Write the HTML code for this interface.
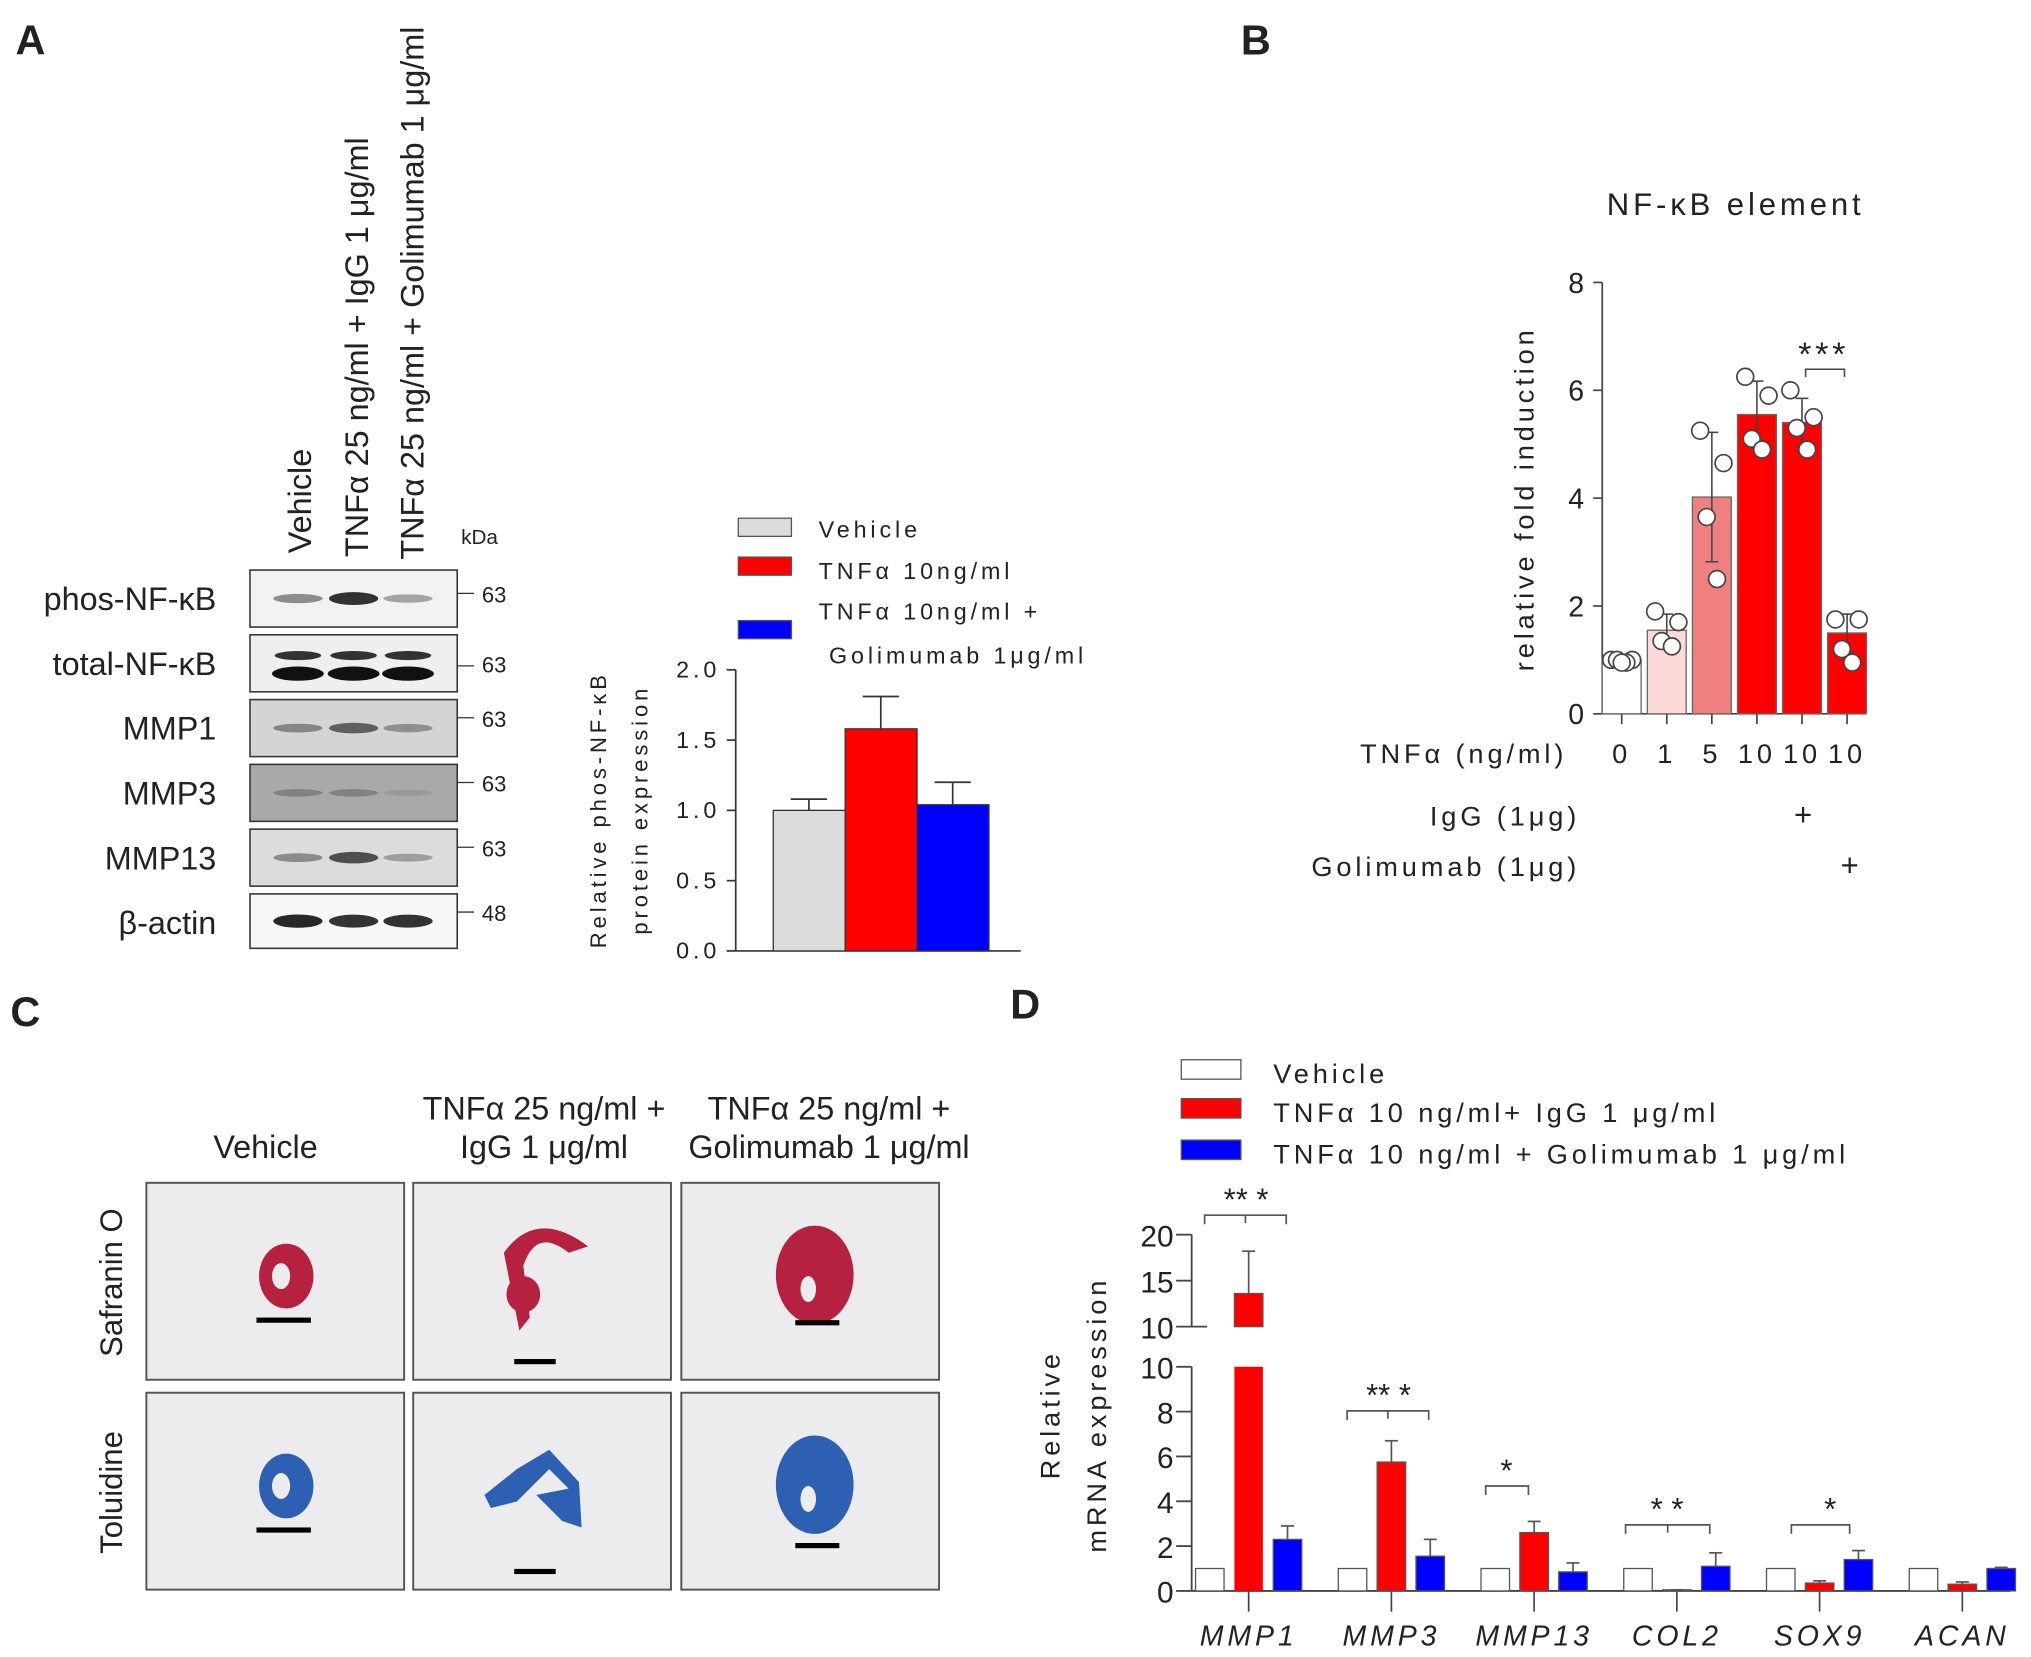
<!DOCTYPE html>
<html><head><meta charset="utf-8">
<style>
html,body{margin:0;padding:0;background:#fff;}
svg{display:block;}
text{font-family:"Liberation Sans",Arial,sans-serif;fill:#222;}
.ls{letter-spacing:3px;}
</style></head>
<body>
<svg id="fig" width="2031" height="1657" viewBox="0 0 1568 1279" preserveAspectRatio="none" xmlns="http://www.w3.org/2000/svg">
<g>
<text x="12" y="42" font-size="32" font-weight="bold">A</text>
<text x="958" y="42" font-size="32" font-weight="bold">B</text>
<text x="8" y="792" font-size="32" font-weight="bold">C</text>
<text x="780" y="786" font-size="32" font-weight="bold">D</text>
</g>

<g id="blot">
<text transform="translate(240,427) rotate(-90)" font-size="25">Vehicle</text>
<text transform="translate(284,430) rotate(-90)" font-size="25">TNFα 25 ng/ml + IgG 1 μg/ml</text>
<text transform="translate(327,432) rotate(-90)" font-size="25">TNFα 25 ng/ml + Golimumab 1 μg/ml</text>
<text x="356" y="420" font-size="16">kDa</text>
</g>

<g id="chartA"></g>
<g id="chartB"></g>
<g id="histo">
<text x="205" y="894" font-size="25" text-anchor="middle">Vehicle</text>
<text x="420" y="864" font-size="25" text-anchor="middle">TNFα 25 ng/ml +</text>
<text x="420" y="894" font-size="25" text-anchor="middle">IgG 1 μg/ml</text>
<text x="640" y="864" font-size="25" text-anchor="middle">TNFα 25 ng/ml +</text>
<text x="640" y="894" font-size="25" text-anchor="middle">Golimumab 1 μg/ml</text>
<text transform="translate(94,990) rotate(-90)" font-size="24" text-anchor="middle">Safranin O</text>
<text transform="translate(94,1152) rotate(-90)" font-size="24" text-anchor="middle">Toluidine</text>
</g>
<g id="chartD"></g>
</svg>

<script>
// ---------- data ----------
const blotRows = ["phos-NF-κB","total-NF-κB","MMP1","MMP3","MMP13","β-actin"];
const blotKda = ["63","63","63","63","63","48"];
const blotIntensity = [[0.45,0.85,0.35],[0.9,0.9,0.9],[0.4,0.6,0.35],[0.25,0.25,0.1],[0.4,0.7,0.3],[0.9,0.85,0.85]];
const blotBg = ["#f2f2f2","#efefef","#d4d4d4","#a9a9a9","#dcdcdc","#f7f7f7"];

const aGroups = ["Vehicle","TNFα 10ng/ml","TNFα 10ng/ml + Golimumab 1μg/ml"];
const aValues = [1.0, 1.58, 1.04];
const aErrors = [1.08, 1.81, 1.20];
const aTicks = ["0.0","0.5","1.0","1.5","2.0"];

const bCats = ["0","1","5","10","10","10"];
const bMeans = [1.0, 1.55, 4.02, 5.55, 5.4, 1.5];
const bSd = [0.05, 0.3, 1.2, 0.62, 0.45, 0.35];
const bPoints = [[1.0,1.0,1.0,0.95,0.95],[1.9,1.7,1.35,1.25],[5.25,4.65,3.65,2.5],[6.25,5.9,5.1,4.9],[6.0,5.5,5.3,4.9],[1.75,1.75,1.2,0.95]];
const bTicks = ["0","2","4","6","8"];

const dGenes = ["MMP1","MMP3","MMP13","COL2","SOX9","ACAN"];
const dVehicle = [1,1,1,1,1,1];
const dIgG = [13.6,5.75,2.6,0.05,0.35,0.3];
const dIgGErr = [18.2,6.7,3.1,0.05,0.45,0.4];
const dGol = [2.3,1.55,0.85,1.1,1.4,1.0];
const dGolErr = [2.9,2.3,1.25,1.7,1.8,1.05];
const dLowTicks = ["0","2","4","6","8","10"];
const dHighTicks = ["10","15","20"];

const NS="http://www.w3.org/2000/svg";
function el(tag, attrs, parent, txt){
  const e=document.createElementNS(NS,tag);
  for(const k in attrs) e.setAttribute(k,attrs[k]);
  if(txt!==undefined) e.textContent=txt;
  parent.appendChild(e); return e;
}

// ---------- blot ----------
const blot=document.getElementById('blot');
blotRows.forEach((r,i)=>{
  const y=440+i*50, h=(i==5?42:44);
  const g=el('g',{},blot);
  
  
  const rc=el('rect',{x:193,y:y,width:160,height:h,fill:blotBg[i],stroke:'#333','stroke-width':1.2},g);
  
  
  const t=el('text',{x:167,y:y+31,'font-size':25,'text-anchor':'end'},g,r);
  
  
  const k=el('text',{x:372,y:y+(i==0||i==1?25:21)+(i==1?4:0),'font-size':17},g,blotKda[i]);
  
  
  el('line',{x1:353,x2:366,y1:y+(i==0?18:i==1?24:14),y2:y+(i==0?18:i==1?24:14),stroke:'#333'},g);
  [230,273,315].forEach((cx,j)=>{
    const v=blotIntensity[i][j];
    if(i==1){
      el('ellipse',{cx:cx,cy:y+30,rx:20,ry:5.5,fill:'#111'},g);
      el('ellipse',{cx:cx,cy:y+16,rx:18,ry:3.5,fill:'#333'},g);
    } else {
      const b=el('ellipse',{cx:cx,cy:y+h/2,rx:19,ry:2+v*3.5,fill:'#111','fill-opacity':v},g);
      
      
    }
  });
});

// ---------- chart A ----------
(function(){
  const g=document.getElementById('chartA');
  const x0=568, y0=734, yTop=517, max=2.0;
  const ys=v=>y0-(v/max)*(y0-yTop);
  el('line',{x1:x0,x2:x0,y1:yTop,y2:y0,stroke:'#333','stroke-width':1.3},g);
  el('line',{x1:x0,x2:788,y1:y0,y2:y0,stroke:'#333','stroke-width':1.3},g);
  aTicks.forEach((t,i)=>{
    const y=ys(parseFloat(t));
    el('line',{x1:x0-7,x2:x0,y1:y,y2:y,stroke:'#333','stroke-width':1.3},g);
    const tx=el('text',{x:x0-12,y:y+6,'font-size':18,'text-anchor':'end',class:'ls'},g,t);
    
    
  });
  const cols=['#dcdcdc','#ff0000','#0000ff'];
  aValues.forEach((v,i)=>{
    const x=597+i*55.5;
    const c=(x+27.5);
    el('line',{x1:c,x2:c,y1:ys(v),y2:ys(aErrors[i]),stroke:'#333','stroke-width':1.3},g);
    el('line',{x1:c-14,x2:c+14,y1:ys(aErrors[i]),y2:ys(aErrors[i]),stroke:'#333','stroke-width':1.3},g);
    const b=el('rect',{x:x,y:ys(v),width:55.5,height:y0-ys(v),fill:cols[i],stroke:'#333','stroke-width':1},g);
    
    
  });
  const yl1=el('text',{transform:'translate(468,625) rotate(-90)','font-size':17,'text-anchor':'middle',class:'ls'},g,'Relative phos-NF-κB');
  
  
  const yl2=el('text',{transform:'translate(500,625) rotate(-90)','font-size':17,'text-anchor':'middle',class:'ls'},g,'protein expression');
  
  
  const ly=[400,430,479];
  ly.forEach((y,i)=>{
    const s=el('rect',{x:570,y:y,width:41,height:14,fill:cols[i],stroke:'#555'},g);
    
    
  });
  [[632,415,'Vehicle'],[632,447,'TNFα 10ng/ml'],[632,478,'TNFα 10ng/ml +'],[640,512,'Golimumab 1μg/ml']].forEach(a=>{
    const t=el('text',{x:a[0],y:a[1],'font-size':18,class:'ls'},g,a[2]);
    
    
  });
})();

// ---------- chart B ----------
(function(){
  const g=document.getElementById('chartB');
  const x0=1237, y0=551, yTop=218, max=8;
  const ys=v=>y0-(v/max)*(y0-yTop);
  const t=el('text',{x:1340,y:166,'font-size':24,'text-anchor':'middle',class:'ls'},g,'NF-κB element');
  
  
  el('line',{x1:x0,x2:x0,y1:yTop,y2:y0,stroke:'#444','stroke-width':1.3},g);
  el('line',{x1:x0,x2:1440,y1:y0,y2:y0,stroke:'#444','stroke-width':1.3},g);
  bTicks.forEach(tk=>{
    const y=ys(parseFloat(tk));
    el('line',{x1:x0-7,x2:x0,y1:y,y2:y,stroke:'#444','stroke-width':1.3},g);
    const tx=el('text',{x:x0-14,y:y+8,'font-size':22,'text-anchor':'end'},g,tk);
    
    
  });
  const yl=el('text',{transform:'translate(1184,385) rotate(-90)','font-size':21,'text-anchor':'middle',class:'ls'},g,'relative fold induction');
  
  
  const cols=['#ffffff','#fbd9d9','#f07f7f','#ff0000','#ff0000','#ff0000'];
  bMeans.forEach((v,i)=>{
    const cx=1252+i*34.8;
    const b=el('rect',{x:cx-15,y:ys(v),width:30,height:y0-ys(v),fill:cols[i],stroke:'#666','stroke-width':1},g);
    
    
    el('line',{x1:cx,x2:cx,y1:y0,y2:y0+8,stroke:'#444','stroke-width':1.3},g);
    el('line',{x1:cx,x2:cx,y1:ys(v-bSd[i]),y2:ys(v+bSd[i]),stroke:'#444','stroke-width':1.2},g);
    el('line',{x1:cx-5,x2:cx+5,y1:ys(v+bSd[i]),y2:ys(v+bSd[i]),stroke:'#444','stroke-width':1.2},g);
    el('line',{x1:cx-5,x2:cx+5,y1:ys(v-bSd[i]),y2:ys(v-bSd[i]),stroke:'#444','stroke-width':1.2},g);
    const offs=[-9,9,-4,4,0];
    bPoints[i].forEach((p,j)=>{
      const c=el('circle',{cx:cx+offs[j%5]*(i==0?0.9:1),cy:ys(p),r:6.5,fill:'#fff',stroke:'#444','stroke-width':1.3},g);
      
      
    });
    const xl=el('text',{x:cx,y:589,'font-size':21,'text-anchor':'middle',class:'ls'},g,bCats[i]);
    
    
  });
  [[1210,589,'TNFα (ng/ml)'],[1220,637,'IgG (1μg)'],[1220,676,'Golimumab (1μg)']].forEach(a=>{
    const tx=el('text',{x:a[0],y:a[1],'font-size':21,'text-anchor':'end',class:'ls'},g,a[2]);
    
    
  });
  [[1392,637],[1428,676]].forEach(a=>{
    const tx=el('text',{x:a[0],y:a[1],'font-size':24,'text-anchor':'middle'},g,'+');
    
    
  });
  const s=el('text',{x:1408,y:282,'font-size':26,'text-anchor':'middle',class:'ls'},g,'***');
  
  
  el('path',{d:'M1394,291 V285 H1424 V291',fill:'none',stroke:'#444','stroke-width':1.2},g);
})();

// ---------- histology ----------
(function(){
  const g=document.getElementById('histo');
  const xs=[113,319,526], rys=[913,1075];
  const stain=['#b5213f','#2d5fb3'];
  rys.forEach((y,r)=>{
    xs.forEach((x,c)=>{
      const p=el('rect',{x:x,y:y,width:199,height:152,fill:'#ececee',stroke:'#555','stroke-width':1.5},g);
      
      
      const cx=x+100, cy=y+74;
      if(c==0){
        el('ellipse',{cx:cx+8,cy:cy-2,rx:21,ry:25,fill:stain[r]},g);
        el('ellipse',{cx:cx+4,cy:cy-2,rx:7,ry:10,fill:'#ececee'},g);
        el('rect',{x:cx-15,y:cy+30,width:42,height:4,fill:'#000'},g);
      } else if(c==1){
        if(r==0){
          el('path',{d:`M${cx-30},${cy-20} Q${cx-5},${cy-55} ${cx+35},${cy-25} L${cx+20},${cy-20} Q${cx-5},${cy-40} ${cx-15},${cy-10} L${cx-10},${cy+30} L${cx-18},${cy+40} Z`,fill:stain[r]},g);
          el('ellipse',{cx:cx-15,cy:cy+12,rx:13,ry:14,fill:stain[r]},g);
        } else {
          el('path',{d:`M${cx-45},${cy+5} L${cx-20},${cy-15} L${cx+5},${cy-30} L${cx+28},${cy-5} L${cx+30},${cy+30} L${cx+15},${cy+25} L${cx-5},${cy+5} L${cx+20},${cy} L${cx+5},${cy-15} L${cx-20},${cy+10} L${cx-40},${cy+15} Z`,fill:stain[r]},g);
        }
        el('rect',{x:cx-22,y:cy+62,width:32,height:4,fill:'#000'},g);
      } else {
        el('ellipse',{cx:cx+3,cy:cy-3,rx:30,ry:38,fill:stain[r]},g);
        el('ellipse',{cx:cx-2,cy:cy+8,rx:6,ry:10,fill:'#ececee'},g);
        el('rect',{x:cx-12,y:cy+(r==0?32:42),width:34,height:4,fill:'#000'},g);
      }
    });
  });
})();

// ---------- chart D ----------
(function(){
  const g=document.getElementById('chartD');
  const x0=920, y0=1228, yLowTop=1055, yHiBot=1024, yHiTop=953;
  const ysL=v=>y0-(v/10)*(y0-yLowTop);
  const ysH=v=>yHiBot-((v-10)/10)*(yHiBot-yHiTop);
  const ax='#444';
  el('line',{x1:x0,x2:x0,y1:yLowTop,y2:y0,stroke:ax,'stroke-width':1.4},g);
  el('line',{x1:x0,x2:x0,y1:yHiTop,y2:yHiBot,stroke:ax,'stroke-width':1.4},g);
  el('line',{x1:x0,x2:1552,y1:y0,y2:y0,stroke:ax,'stroke-width':1.4},g);
  dLowTicks.forEach(t=>{
    const y=ysL(+t);
    el('line',{x1:x0-12,x2:x0,y1:y,y2:y,stroke:ax,'stroke-width':1.4},g);
    const tx=el('text',{x:x0-14,y:y+9,'font-size':23,'text-anchor':'end'},g,t);
    
    
  });
  dHighTicks.forEach(t=>{
    const y=ysH(+t);
    el('line',{x1:x0-12,x2:x0+(t=='10'?12:0),y1:y,y2:y,stroke:ax,'stroke-width':1.4},g);
    const tx=el('text',{x:x0-14,y:y+9,'font-size':23,'text-anchor':'end'},g,t);
    
    
  });
  const yl1=el('text',{transform:'translate(818,1092) rotate(-90)','font-size':21,'text-anchor':'middle',class:'ls'},g,'Relative');
  
  
  const yl2=el('text',{transform:'translate(854,1092) rotate(-90)','font-size':21,'text-anchor':'middle',class:'ls'},g,'mRNA expression');
  
  

  function bar(cx,v,fill,name){
    if(v<=10){
      const b=el('rect',{x:cx-11,y:ysL(v),width:22,height:y0-ysL(v),fill:fill,stroke:'#555','stroke-width':1},g);
      
      
    } else {
      const b=el('rect',{x:cx-11,y:yLowTop,width:22,height:y0-yLowTop,fill:fill},g);
      
      
      const b2=el('rect',{x:cx-11,y:ysH(v),width:22,height:yHiBot-ysH(v),fill:fill,stroke:'#555','stroke-width':1},g);
      
      
    }
  }
  function err(cx,v,e){
    const yv=v>10?ysH(v):ysL(v), ye=e>10?ysH(e):ysL(e);
    el('line',{x1:cx,x2:cx,y1:yv,y2:ye,stroke:'#555','stroke-width':1.3},g);
    el('line',{x1:cx-5,x2:cx+5,y1:ye,y2:ye,stroke:'#555','stroke-width':1.3},g);
  }
  dGenes.forEach((gn,i)=>{
    const c=964+i*110.2;
    el('line',{x1:c,x2:c,y1:y0,y2:y0+16,stroke:ax,'stroke-width':1.3},g);
    err(c,dIgG[i],dIgGErr[i]); err(c+30,dGol[i],dGolErr[i]);
    bar(c-30,dVehicle[i],'#fff','d-bar-vehicle-'+gn);
    bar(c,dIgG[i],'#ff0000','d-bar-igg-'+gn);
    bar(c+30,dGol[i],'#0000ff','d-bar-golimumab-'+gn);
    const t=el('text',{x:c,y:1270,'font-size':22,'font-style':'italic','text-anchor':'middle',class:'ls'},g,gn);
    
    
  });
  const sig=[[930,993,938,'**  *',962,1],[1040,1103,1089,'**  *',1072,1],[1147,1180,1147,'*',1163,0],[1255,1320,1177,'*    *',1287,1],[1383,1428,1177,'*',1413,0]];
  sig.forEach(s=>{
    el('path',{d:`M${s[0]},${s[2]+7} V${s[2]} H${s[1]} V${s[2]+7}`,fill:'none',stroke:'#555','stroke-width':1.3},g);
    if(s[5]) el('line',{x1:(s[0]+s[1])/2,x2:(s[0]+s[1])/2,y1:s[2],y2:s[2]+6,stroke:'#555','stroke-width':1.3},g);
    const t=el('text',{x:s[4],y:s[2]-4,'font-size':24,'text-anchor':'middle','xml:space':'preserve'},g,s[3]);
    
    
  });
  const lc=['#fff','#ff0000','#0000ff'], lt=['Vehicle','TNFα 10 ng/ml+ IgG 1 μg/ml','TNFα 10 ng/ml + Golimumab 1 μg/ml'];
  [818,848,880].forEach((y,i)=>{
    const s=el('rect',{x:912,y:y,width:46,height:15,fill:lc[i],stroke:'#555'},g);
    
    
    const t=el('text',{x:983,y:y+18,'font-size':21,class:'ls'},g,lt[i]);
    
    
  });
})();
</script>
</body></html>
